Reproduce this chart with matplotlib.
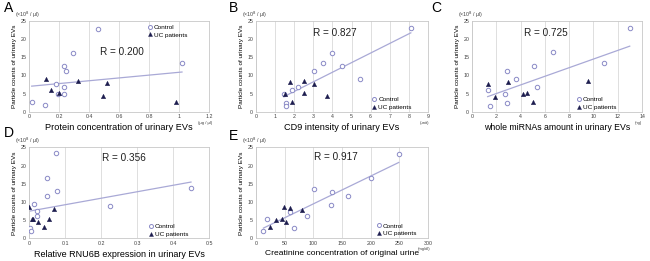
import numpy as np
import matplotlib
matplotlib.use('Agg')
import matplotlib.pyplot as plt

plt.rcParams['font.family'] = ['Liberation Sans', 'DejaVu Sans']

# panel A: protein concentration
A_ctrl_x = [0.018, 0.107, 0.18, 0.19, 0.23, 0.235, 0.244, 0.235, 0.293, 0.46, 1.02]
A_ctrl_y = [2.7, 1.8, 7.6, 4.9, 5.0, 12.6, 11.3, 6.9, 16.3, 22.9, 13.3]
A_uc_x = [0.113, 0.144, 0.2, 0.324, 0.518, 0.49, 0.98]
A_uc_y = [8.9, 6.0, 5.1, 8.5, 8.0, 4.2, 2.8]

# panel B: CD9 intensity
B_ctrl_x = [1.45, 1.59, 1.59, 1.86, 2.21, 3.05, 3.52, 3.99, 4.51, 5.42, 8.10]
B_ctrl_y = [4.9, 2.5, 1.7, 6.0, 6.9, 11.3, 13.3, 16.3, 12.6, 8.9, 23.2]
B_uc_x = [1.53, 1.79, 1.86, 2.49, 2.51, 3.05, 3.69]
B_uc_y = [4.8, 8.1, 2.8, 8.5, 5.1, 7.6, 4.2]

# panel C: whole miRNAs amount
C_ctrl_x = [1.29, 1.5, 2.71, 2.88, 2.88, 3.59, 5.1, 5.32, 6.63, 10.9, 12.99]
C_ctrl_y = [5.9, 1.7, 5.0, 2.4, 11.3, 8.9, 12.7, 6.8, 16.4, 13.4, 23.2]
C_uc_x = [1.29, 1.89, 2.93, 4.22, 4.49, 5.04, 9.59]
C_uc_y = [7.6, 4.0, 8.1, 4.8, 5.1, 2.7, 8.5]

# panel D: relative RNU6B expression
D_ctrl_x = [0.075, 0.049, 0.049, 0.077, 0.014, 0.021, 0.021, 0.003, 0.005, 0.224, 0.45]
D_ctrl_y = [23.4, 16.7, 11.7, 13.1, 9.4, 7.5, 6.25, 2.85, 2.1, 8.8, 13.7]
D_uc_x = [0.001, 0.007, 0.010, 0.026, 0.042, 0.056, 0.069]
D_uc_y = [8.5, 5.3, 5.2, 4.5, 3.0, 5.2, 8.0]

# panel E: creatinine concentration
E_ctrl_x = [13, 20, 60, 67, 89, 101, 130, 133, 160, 200, 249]
E_ctrl_y = [2.0, 5.2, 7.2, 2.8, 6.1, 13.6, 9.1, 12.8, 11.5, 16.5, 23.2]
E_uc_x = [25, 35, 45, 49, 52, 60, 80]
E_uc_y = [3.0, 5.0, 5.3, 8.7, 4.4, 8.3, 7.8]

r_texts = ['R = 0.200', 'R = 0.827', 'R = 0.725', 'R = 0.356', 'R = 0.917']
xlabels = ['Protein concentration of urinary EVs', 'CD9 intensity of urinary EVs',
           'whole miRNAs amount in urinary EVs', 'Relative RNU6B expression in urinary EVs',
           'Creatinine concentration of original urine']
xlabel_size = [6.6, 6.6, 6.3, 6.5, 6.1]
xunits = ['(μg / μl)', '(unit)', '(ng)', '', '(mg/dl)']
xticks = [[0, 0.2, 0.4, 0.6, 0.8, 1, 1.2], list(range(0, 10)), list(range(0, 15, 2)),
          [0, 0.1, 0.2, 0.3, 0.4, 0.5], list(range(0, 301, 50))]
r_pos = [(0.47, 16.5), (2.98, 21.8), (4.25, 21.6), (0.202, 22.0), (102, 22.2)]
leg_pos = [(0.64, 0.99), (0.655, 0.19), (0.595, 0.19), (0.645, 0.19), (0.68, 0.195)]
letters = ['A', 'B', 'C', 'D', 'E']
letter_px = [(9, 8), (234, 8), (436, 8), (9, 133), (233, 136)]

panels = [(A_ctrl_x, A_ctrl_y, A_uc_x, A_uc_y), (B_ctrl_x, B_ctrl_y, B_uc_x, B_uc_y),
          (C_ctrl_x, C_ctrl_y, C_uc_x, C_uc_y), (D_ctrl_x, D_ctrl_y, D_uc_x, D_uc_y),
          (E_ctrl_x, E_ctrl_y, E_uc_x, E_uc_y)]

W, H = 650, 261
# axes boxes in pixels: left, right, top, bottom
boxes = [(29, 209, 21, 111.7), (256, 428, 21, 111.7), (472, 642, 21, 111.7),
         (29, 209, 147.3, 238.3), (256, 428, 147.3, 238.3)]

fig = plt.figure(figsize=(6.5, 2.61), dpi=100)

ctrl_col = '#8a8ac6'
uc_col = '#1c1c4e'
trend_col = '#a9a9d6'
grid_col = '#d9d9d9'

for i, (cx, cy, ux, uy) in enumerate(panels):
    l, r, t, b = boxes[i]
    ax = fig.add_axes([l / W, (H - b) / H, (r - l) / W, (b - t) / H])
    ticks = xticks[i]
    ax.set_xlim(ticks[0], ticks[-1])
    ax.set_ylim(0, 25)

    # linear trendline over all samples
    allx = np.array(cx + ux)
    ally = np.array(cy + uy)
    k, c = np.polyfit(allx, ally, 1)
    xs = np.array([allx.min(), allx.max()])
    ax.plot(xs, k * xs + c, color=trend_col, lw=0.9, zorder=2)

    ax.plot(cx, cy, 'o', ms=3.2, mfc='white', mec=ctrl_col, mew=0.7,
            ls='none', label='Control', zorder=3)
    ax.plot(ux, uy, '^', ms=3.2, mfc=uc_col, mec=uc_col, mew=0.3,
            ls='none', label='UC patients', zorder=3)

    ax.set_xticks(ticks)
    ax.set_xticklabels([('%g' % v) for v in ticks])
    ax.set_yticks([0, 5, 10, 15, 20, 25])
    ax.tick_params(length=0, labelsize=3.8, colors='#404040', pad=2)
    ax.grid(axis='x', color=grid_col, lw=0.6)
    ax.set_axisbelow(True)
    for s in ax.spines.values():
        s.set_color('#c8c8c8')
        s.set_linewidth(0.6)

    ax.set_xlabel(xlabels[i], fontsize=xlabel_size[i], labelpad=2.5)
    ax.set_ylabel('Particle counts of urinary EVs', fontsize=4.6, labelpad=2)
    ax.text(-0.08, 1.07, '(×10$^8$ / μl)', transform=ax.transAxes,
            fontsize=3.8, ha='left', va='center', color='#404040')
    if xunits[i]:
        ax.text(0.98, -0.12, xunits[i], transform=ax.transAxes,
                fontsize=3.1, ha='center', va='center', color='#404040')

    ax.text(r_pos[i][0], r_pos[i][1], r_texts[i], fontsize=7.2,
            ha='left', va='center', color='#202020')

    ax.legend(loc='upper left', bbox_to_anchor=leg_pos[i], frameon=False,
              fontsize=4.6, handletextpad=0.1, labelspacing=0.35,
              borderaxespad=0, handlelength=1.0, markerscale=0.9)

    lx, ly = letter_px[i]
    fig.text(lx / W, 1 - ly / H, letters[i], fontsize=10,
             ha='center', va='center')

fig.savefig('out.png', dpi=100)
